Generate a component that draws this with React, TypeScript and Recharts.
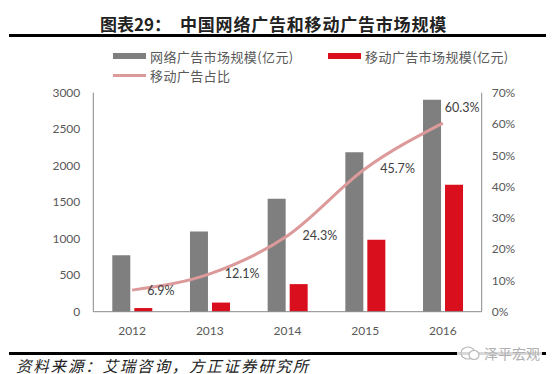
import {
  ComposedChart,
  Bar,
  Line,
  XAxis,
  YAxis,
  LabelList,
} from "recharts";

const years = ["2012", "2013", "2014", "2015", "2016"];
const onlineAd = [773, 1100, 1546, 2184, 2902];
const mobileAd = [50, 125, 378, 985, 1740];
const mobileShare = [6.9, 12.1, 24.3, 45.7, 60.3];

const leftTicks = [0, 500, 1000, 1500, 2000, 2500, 3000];
const rightTicks = [0, 10, 20, 30, 40, 50, 60, 70];
const boundaryTicks = [1, 2, 3, 4];

const data = years.map((year, i) => ({
  year,
  online: onlineAd[i],
  mobile: mobileAd[i],
  share: mobileShare[i],
}));

const numFont = "Lato, 'Open Sans', sans-serif";
const cjkFont = "'Noto Sans CJK SC', 'Noto Sans', sans-serif";
const axisColor = "#898989";
const textColor = "#595959";
const gray = "#7f7f7f";
const red = "#da0f1e";
const pink = "#dc9a9a";

function ShareLabel(props: any) {
  const { x, y, value, index } = props;
  const last = index === years.length - 1;
  return (
    <text
      x={last ? x + 2 : x + 15}
      y={last ? y - 15 : y}
      dy="0.355em"
      fill="#404040"
      fontSize={12.5}
      fontFamily={numFont}
      textAnchor="start"
    >
      {value}%
    </text>
  );
}

export default function App() {
  return (
    <div
      style={{
        position: "absolute",
        left: 0,
        top: 0,
        width: 554,
        height: 374,
        background: "#fff",
        overflow: "hidden",
      }}
    >
      {/* title */}
      <div
        style={{
          position: "absolute",
          left: 100,
          top: 12,
          fontFamily: cjkFont,
          fontSize: 17,
          fontWeight: 700,
          color: "#222",
          lineHeight: "24px",
          whiteSpace: "nowrap",
        }}
      >
        图表29：
      </div>
      <div
        style={{
          position: "absolute",
          left: 180,
          top: 12,
          fontFamily: cjkFont,
          fontSize: 17,
          fontWeight: 700,
          letterSpacing: 0.8,
          color: "#222",
          lineHeight: "24px",
          whiteSpace: "nowrap",
        }}
      >
        中国网络广告和移动广告市场规模
      </div>
      <div
        style={{
          position: "absolute",
          left: 9,
          top: 34,
          width: 537,
          height: 3,
          background: "#000",
        }}
      />

      {/* legend */}
      <div
        style={{
          position: "absolute",
          left: 0,
          top: 0,
          fontFamily: cjkFont,
          fontSize: 13,
          letterSpacing: 0.4,
          color: textColor,
          whiteSpace: "nowrap",
        }}
      >
        <div style={{ position: "absolute", left: 113, top: 53, width: 33, height: 6, background: gray }} />
        <div style={{ position: "absolute", left: 150, top: 48.5, lineHeight: "15px" }}>
          网络广告市场规模(亿元)
        </div>
        <div style={{ position: "absolute", left: 328, top: 53, width: 33, height: 6, background: red }} />
        <div style={{ position: "absolute", left: 365, top: 48.5, lineHeight: "15px" }}>
          移动广告市场规模(亿元)
        </div>
        <div style={{ position: "absolute", left: 113, top: 74, width: 33, height: 3, background: pink }} />
        <div style={{ position: "absolute", left: 150, top: 68, lineHeight: "15px" }}>
          移动广告占比
        </div>
      </div>

      <div style={{ position: "absolute", left: 0, top: 0 }}>
        <ComposedChart
          width={554}
          height={374}
          data={data}
          margin={{ top: 92.7, right: 12.3, bottom: 32.3, left: 33.3 }}
          barGap={4}
        >
          <XAxis
            dataKey="year"
            axisLine={{ stroke: axisColor }}
            tickLine={false}
            tickSize={0}
            tickMargin={15}
            height={30}
            tick={{ fill: textColor, fontSize: 12, fontFamily: numFont }}
          />
          <XAxis
            xAxisId="bounds"
            type="number"
            domain={[0, 5]}
            ticks={boundaryTicks}
            mirror
            axisLine={false}
            tick={false}
            tickSize={4}
            tickLine={{ stroke: axisColor }}
          />
          <YAxis
            yAxisId="left"
            domain={[0, 3000]}
            ticks={leftTicks}
            width={60}
            axisLine={{ stroke: axisColor }}
            tickLine={false}
            tickSize={0}
            tickMargin={13}
            tick={{ fill: textColor, fontSize: 12, fontFamily: numFont }}
          />
          <YAxis
            yAxisId="leftIn"
            domain={[0, 3000]}
            ticks={leftTicks}
            mirror
            axisLine={false}
            tick={false}
            tickSize={4}
            tickLine={{ stroke: axisColor }}
          />
          <YAxis
            yAxisId="right"
            orientation="right"
            domain={[0, 70]}
            ticks={rightTicks}
            width={60}
            tickFormatter={(v) => `${v}%`}
            axisLine={{ stroke: axisColor }}
            tickLine={false}
            tickSize={0}
            tickMargin={10}
            tick={{ fill: textColor, fontSize: 12, fontFamily: numFont }}
          />
          <YAxis
            yAxisId="rightIn"
            orientation="right"
            domain={[0, 70]}
            ticks={rightTicks}
            mirror
            axisLine={false}
            tick={false}
            tickSize={4}
            tickLine={{ stroke: axisColor }}
          />
          <Bar
            yAxisId="left"
            dataKey="online"
            fill={gray}
            barSize={18}
            isAnimationActive={false}
          />
          <Bar
            yAxisId="left"
            dataKey="mobile"
            fill={red}
            barSize={18}
            isAnimationActive={false}
          />
          <Line
            yAxisId="right"
            dataKey="share"
            type="monotone"
            stroke={pink}
            strokeWidth={3}
            dot={false}
            isAnimationActive={false}
          >
            <LabelList dataKey="share" content={<ShareLabel />} />
          </Line>
        </ComposedChart>
      </div>

      {/* source */}
      <div
        style={{
          position: "absolute",
          left: 9,
          top: 351.5,
          width: 537,
          height: 3,
          background: "#000",
        }}
      />
      <div
        style={{
          position: "absolute",
          left: 457,
          top: 343,
          height: 20,
          display: "flex",
          alignItems: "center",
          gap: 3,
          background: "rgba(255,255,255,0.85)",
          padding: "0 2px",
          fontFamily: cjkFont,
          fontSize: 14,
          color: "#b0b0b0",
          whiteSpace: "nowrap",
        }}
      >
        <svg width={22} height={16}>
          <ellipse cx={9} cy={8} rx={7} ry={6} fill="none" stroke="#b8b8b8" strokeWidth={1.2} />
          <ellipse cx={15} cy={10} rx={5} ry={4.5} fill="#fff" stroke="#b8b8b8" strokeWidth={1.2} />
        </svg>
        泽平宏观
      </div>
      <div
        style={{
          position: "absolute",
          left: 16,
          top: 356.5,
          fontFamily: cjkFont,
          fontSize: 15.5,
          fontStyle: "italic",
          letterSpacing: 1.8,
          color: "#222",
          lineHeight: "16px",
          whiteSpace: "nowrap",
        }}
      >
        资料来源：艾瑞咨询，方正证券研究所
      </div>
    </div>
  );
}
